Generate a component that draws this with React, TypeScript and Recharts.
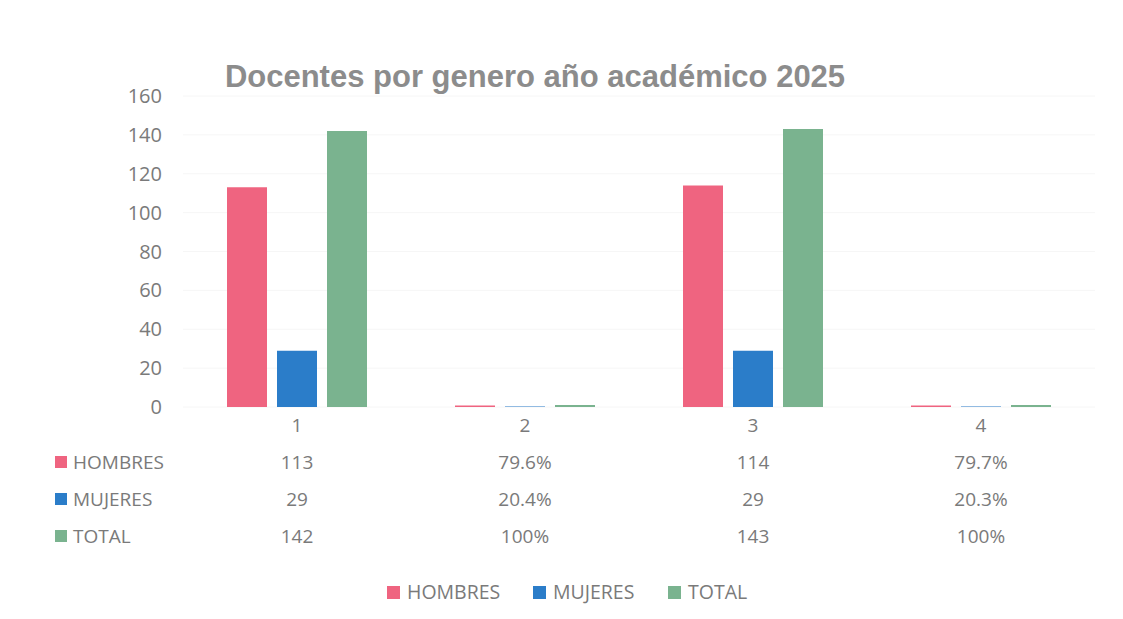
import { BarChart, Bar, XAxis, YAxis, CartesianGrid, Customized } from "recharts";

const categories = ["1", "2", "3", "4"];
const hombres = [113, 0.796, 114, 0.797];
const mujeres = [29, 0.204, 29, 0.203];
const total = [142, 1, 143, 1];
const hombresText = ["113", "79.6%", "114", "79.7%"];
const mujeresText = ["29", "20.4%", "29", "20.3%"];
const totalText = ["142", "100%", "143", "100%"];
const yTicks = [0, 20, 40, 60, 80, 100, 120, 140, 160];

const series = [
  { key: "hombres", name: "HOMBRES", color: "#EF6480", text: hombresText },
  { key: "mujeres", name: "MUJERES", color: "#2B7DC9", text: mujeresText },
  { key: "total", name: "TOTAL", color: "#7AB38F", text: totalText },
];

const data = categories.map((c, i) => ({
  cat: c,
  hombres: hombres[i],
  mujeres: mujeres[i],
  total: total[i],
}));

const FONT = "'Open Sans', sans-serif";
const GRAY = "#7a7a7a";

// category label + data table values under each category
const TableTick = (props: any) => {
  const { x, y, payload } = props;
  const i = payload.index;
  return (
    <g>
      <text x={x} y={y + 18} dy="0.355em" textAnchor="middle" fill={GRAY} fontSize={19} fontFamily={FONT}>
        {payload.value}
      </text>
      {series.map((s, r) => (
        <text key={s.key} x={x} y={y + 55 + r * 37} dy="0.355em" textAnchor="middle" fill={GRAY} fontSize={19} fontFamily={FONT}>
          {s.text[i]}
        </text>
      ))}
    </g>
  );
};

// title, row headers of the data table and legend
const Extras = () => (
  <g>
    <text x={527} y={79} textAnchor="middle" fill="#8c8c8c" fontSize={31} fontWeight="bold" fontFamily="'Liberation Sans', Arial, sans-serif">
      Docentes por genero año académico 2025
    </text>
    {series.map((s, r) => (
      <g key={s.key}>
        <rect x={47} y={448 + r * 37} width={12} height={12} fill={s.color} />
        <text x={65} y={454 + r * 37} dy="0.355em" fill={GRAY} fontSize={19} fontFamily={FONT}>
          {s.name}
        </text>
      </g>
    ))}
    {series.map((s, r) => {
      const lx = [379, 525, 660][r];
      return (
        <g key={s.key + "-leg"}>
          <rect x={lx} y={578} width={13} height={13} fill={s.color} />
          <text x={lx + 20} y={584} dy="0.355em" fill={GRAY} fontSize={19.5} fontFamily={FONT}>
            {s.name}
          </text>
        </g>
      );
    })}
  </g>
);

export default function App() {
  return (
    <div style={{ width: 1107, height: 603, background: "#fff" }}>
      <BarChart
        width={1107}
        height={603}
        data={data}
        margin={{ top: 88, right: 20, left: 115, bottom: 174 }}
        barGap={10}
      >
        <CartesianGrid vertical={false} stroke="#f6f6f6" />
        <XAxis
          dataKey="cat"
          axisLine={false}
          tickLine={false}
          tickSize={0}
          tickMargin={0}
          interval={0}
          tick={<TableTick />}
        />
        <YAxis
          width={60}
          domain={[0, 160]}
          ticks={yTicks}
          axisLine={false}
          tickLine={false}
          tickSize={0}
          tickMargin={21}
          tick={{ fill: GRAY, fontSize: 20, fontFamily: FONT }}
        />
        {series.map((s) => (
          <Bar key={s.key} dataKey={s.key} name={s.name} fill={s.color} barSize={40} isAnimationActive={false} />
        ))}
        <Customized component={Extras} />
      </BarChart>
    </div>
  );
}
